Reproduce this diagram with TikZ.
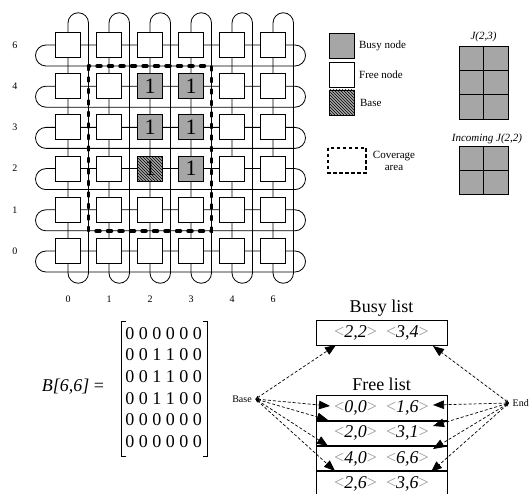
\documentclass[tikz,border=0pt]{standalone}
\usepackage{fontspec}
\setmainfont{Liberation Serif}
\usetikzlibrary{arrows.meta,positioning,patterns}
\newcommand{\ent}[1]{{\color{black!40}\textless}\textit{#1}{\color{black!40}\textgreater}}

\begin{document}
\begin{tikzpicture}[x=1pt, y=-1pt, line width=0.8pt,
  sq/.style={draw, fill=white, minimum size=25pt, inner sep=0pt},
  busysq/.style={sq, fill=black!35},
  basesq/.style={sq, fill=black!35, postaction={pattern=north west lines}},
  one/.style={font=\fontsize{22}{22}\selectfont, inner sep=0pt},
  cell/.style={draw, fill=black!35, minimum width=24.5pt, minimum height=24.3pt, inner sep=0pt},
  lbl/.style={font=\fontsize{10}{10}\selectfont},
  leg/.style={font=\fontsize{11}{12}\selectfont},
  ttl/.style={font=\fontsize{18}{18}\selectfont},
  lst/.style={draw, line width=1pt, minimum width=131pt, minimum height=24.25pt, inner sep=0pt, font=\fontsize{18}{18}\selectfont},
  cover/.style={line width=3.5pt, dash pattern=on 4pt off 7.5pt, line cap=round},
  legcover/.style={line width=2.2pt, dash pattern=on 3.5pt off 2.5pt},
  ptr/.style={line width=0.7pt, dash pattern=on 3pt off 2pt, {Stealth[length=4pt,width=3pt]}-{Triangle[length=11pt,width=8.5pt]}}]
\useasboundingbox (0,0) rectangle (529,494);

% wrap-around links
\foreach \y in {45,86.2,127.4,168.6,209.8,251}
  \draw (46,\y) -- (295,\y) arc(-90:90:10.5) -- (46,\y+21) arc(90:270:10.5) -- cycle;
\foreach \x in {68,109,150,191,232,273}
  \draw (\x,23) -- (\x,273) arc(180:0:10.25) -- (\x+20.5,23) arc(0:-180:10.25) -- cycle;

% mesh nodes
\foreach \r/\y/\row in {0/45/{sq,sq,sq,sq,sq,sq}, 1/86.2/{sq,sq,busysq,busysq,sq,sq},
    2/127.4/{sq,sq,busysq,busysq,sq,sq}, 3/168.6/{sq,sq,basesq,busysq,sq,sq},
    4/209.8/{sq,sq,sq,sq,sq,sq}, 5/251/{sq,sq,sq,sq,sq,sq}}
  \foreach \s [count=\c from 0] in \row
    \node[\s] (n\c\r) at (68+41*\c,\y) {};
\foreach \n in {n21,n31,n22,n32,n23,n33}
  \node[one] (o\n) at (\n) {1};
\draw[cover] (88.5,66) rectangle (211.5,231);

\foreach \l/\y in {6/45,4/86.2,3/127.4,2/168.6,1/209.8,0/251}
  \node[lbl] (r\l) at (15,\y) {\l};
\foreach \l/\x in {0/68,1/109,2/150,3/191,4/232,6/273}
  \node[lbl] (c\l) at (\x,299) {\l};

% legend
\node[busysq] (lgbusy) at (341.5,45.5) {};
\node[leg, right=1pt of lgbusy] (lgbusyt) {Busy node};
\node[sq] (lgfree) at (341.5,74.5) {};
\node[leg, right=1pt of lgfree] (lgfreet) {Free node};
\node[basesq] (lgbase) at (341.5,102.5) {};
\node[leg, right=2pt of lgbase] (lgbaset) {Base};
\draw[legcover] (328,148) rectangle (366,173);
\node[leg, align=center] (lgcov) at (394,160.5) {Coverage\\area};

% jobs
\node[leg, font=\fontsize{11}{12}\selectfont\itshape] (jt) at (483.5,37) {J(2,3)};
\foreach \c/\x in {0/471.25,1/495.75}
  \foreach \r/\y in {0/58.2,1/82.5,2/106.8}
    \node[cell] (j\c\r) at (\x,\y) {};
\node[leg, font=\fontsize{11}{12}\selectfont\itshape] (jit) at (487,138.5) {Incoming J(2,2)};
\foreach \c/\x in {0/471.25,1/495.75}
  \foreach \r/\y in {0/158.25,1/182.75}
    \node[cell] (ji\c\r) at (\x,\y) {};

% bitmap
\node[ttl] (bname) at (73,387) {\textit{B[6,6]} =};
\node[align=center, font=\fontsize{18}{21.7}\selectfont, inner sep=0pt] (mat) at (163.5,387.5)
  {0 0 0 0 0 0\\0 0 1 1 0 0\\0 0 1 1 0 0\\0 0 1 1 0 0\\0 0 0 0 0 0\\0 0 0 0 0 0};
\draw[line width=1pt] (125.5,321) -- (121,321) -- (121,456) -- (125.5,456);
\draw[line width=1pt] (202.5,321) -- (207,321) -- (207,456) -- (202.5,456);

% lists
\node[ttl] (busyttl) at (381.5,308) {Busy list};
\node[lst] (bl) at (381.5,333) {\ent{2,2}\enspace\ent{3,4}};
\node[ttl] (freettl) at (381.5,384) {Free list};
\node[lst] (fr1) at (381.5,408.1) {\ent{0,0}\enspace\ent{1,6}};
\node[lst, below=0pt of fr1] (fr2) {\ent{2,0}\enspace\ent{3,1}};
\node[lst, below=0pt of fr2] (fr3) {\ent{4,0}\enspace\ent{6,6}};
\node[lst, below=0pt of fr3] (fr4) {\ent{2,6}\enspace\ent{3,6}};

\node[lbl] (bs) at (242,399) {Base};
\node[lbl, anchor=west] (en) at (509,403) {End};
\foreach \i/\p in {0/{336,345},1/{330,406},2/{328,420},3/{328,446},4/{335,471}} {
  \coordinate (bt\i) at (\p);
  \draw[ptr] (bs.east) -- (bt\i);
}
\foreach \i/\p in {0/{433,346},1/{433,405},2/{433,426},3/{433,449},4/{431,472}} {
  \coordinate (et\i) at (\p);
  \draw[ptr] (en.west) -- (et\i);
}
\end{tikzpicture}
\end{document}
